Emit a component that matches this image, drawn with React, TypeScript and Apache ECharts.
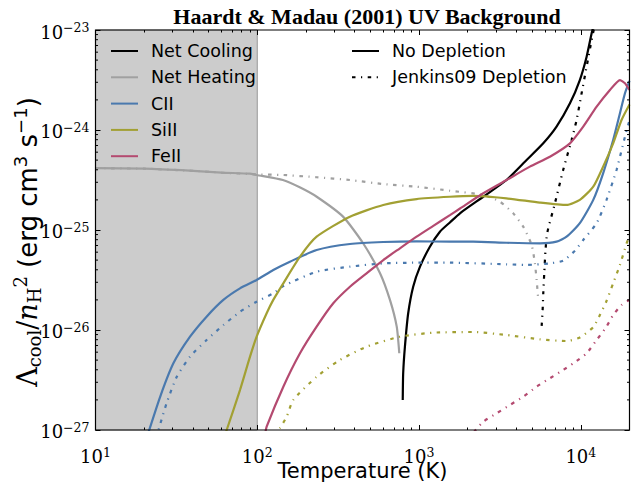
import React, { useEffect, useRef } from "react";
import * as echarts from "echarts";

// ---- tick values ----
const xMajorTicks = [10, 100, 1000, 10000];
const xMinorTicks = [20, 30, 40, 50, 60, 70, 80, 90, 200, 300, 400, 500, 600, 700, 800, 900, 2000, 3000, 4000, 5000, 6000, 7000, 8000, 9000];
const yMinorTicks = [
  2e-27, 3e-27, 4e-27, 5e-27, 6e-27, 7e-27, 8e-27, 9e-27,
  2e-26, 3e-26, 4e-26, 5e-26, 6e-26, 7e-26, 8e-26, 9e-26,
  2e-25, 3e-25, 4e-25, 5e-25, 6e-25, 7e-25, 8e-25, 9e-25,
  2e-24, 3e-24, 4e-24, 5e-24, 6e-24, 7e-24, 8e-24, 9e-24,
];
const xRange = [10, 20000];
const yRange = [9.9999e-28, 1e-23];

// ---- series data (temperature K, Lambda/nH^2 erg cm^3 s^-1) ----
const netCoolT = [793, 798, 818, 857, 920, 1014, 1167, 1346, 1552, 1791, 2495, 3475, 4624, 5861, 7079, 8570, 9863, 10864, 11668, 12023];
const netCoolL = [2.0e-27, 3.69e-27, 6.81e-27, 1.47e-26, 2.71e-26, 4.3e-26, 6.81e-26, 9.62e-26, 1.19e-25, 1.47e-25, 2.15e-25, 3.16e-25, 5.01e-25, 7.36e-25, 1.08e-24, 1.85e-24, 3.16e-24, 5.41e-24, 9.27e-24, 1.12e-23];

const netCoolDepT = [5728, 5808, 5861, 5943, 6053, 6194, 6918, 7780, 8770, 9419, 10116, 10864, 11668, 12303];
const netCoolDepL = [1.1e-26, 1.58e-26, 2.33e-26, 3.69e-26, 6.31e-26, 9.27e-26, 1.85e-25, 3.98e-25, 7.94e-25, 1.26e-24, 2.33e-24, 4.3e-24, 7.94e-24, 1.2e-23];

const netHeatT = [10, 20, 38, 60, 90, 99, 144, 183, 233, 339, 450, 573, 661, 728, 755];
const netHeatL = [4.15e-25, 4.1e-25, 3.92e-25, 3.75e-25, 3.66e-25, 3.55e-25, 3.16e-25, 2.67e-25, 2.15e-25, 1.36e-25, 7.41e-26, 3.72e-26, 2.0e-26, 1.08e-26, 5.85e-27];

const netHeatDepT = [10, 20, 38, 60, 99, 144, 233, 374, 598, 966, 1552, 2495, 3162, 3819, 4406, 4966, 5200, 5333, 5458];
const netHeatDepL = [4.15e-25, 4.1e-25, 3.92e-25, 3.75e-25, 3.6e-25, 3.55e-25, 3.37e-25, 3.16e-25, 2.88e-25, 2.71e-25, 2.47e-25, 2.24e-25, 1.92e-25, 1.47e-25, 1.08e-25, 7.08e-26, 4.68e-26, 3.16e-26, 2.0e-26];

const ciiT = [20.7, 25.1, 30.3, 38.4, 48.6, 61.7, 78.2, 99.1, 125.6, 159.2, 232.8, 374, 601, 966, 1552, 2163, 3475, 5585, 7079, 8166, 9863, 11940, 13740, 15850, 17460, 18750, 20000];
const ciiL = [8.3e-28, 2.15e-27, 4.64e-27, 8.57e-27, 1.36e-26, 2.0e-26, 2.61e-26, 3.16e-26, 3.98e-26, 4.82e-26, 6.31e-26, 7.24e-26, 7.59e-26, 7.71e-26, 7.64e-26, 7.64e-26, 7.46e-26, 7.36e-26, 7.64e-26, 8.57e-26, 1.17e-25, 2.0e-25, 3.69e-25, 7.94e-25, 1.47e-24, 2.33e-24, 3.1e-24];

const ciiDepT = [23.7, 27.5, 31.8, 38.4, 48.6, 61.7, 78.2, 99.1, 125.6, 144.9, 232.8, 374, 601, 966, 1552, 3475, 4624, 6442, 7780, 9204, 10351, 12531, 14420, 16630, 18750, 20000];
const ciiDepL = [8.3e-28, 1.85e-27, 3.41e-27, 5.41e-27, 7.94e-27, 1.12e-26, 1.52e-26, 1.92e-26, 2.33e-26, 2.75e-26, 3.83e-26, 4.3e-26, 4.64e-26, 4.71e-26, 4.71e-26, 4.54e-26, 4.47e-26, 4.64e-26, 4.93e-26, 6.21e-26, 7.94e-26, 1.17e-25, 2.0e-25, 3.98e-25, 8.57e-25, 1.25e-24];

const siiT = [62.2, 64.7, 78.2, 90.2, 99.1, 114.3, 125.6, 144.9, 183.7, 232.8, 374, 601, 966, 1552, 2163, 3475, 5585, 8166, 9863, 11940, 13740, 15850, 17860, 20000];
const siiL = [8.3e-28, 1.0e-27, 2.51e-27, 5.41e-27, 8.57e-27, 1.47e-26, 2.0e-26, 2.93e-26, 5.41e-26, 8.57e-26, 1.36e-25, 1.78e-25, 2.04e-25, 2.15e-25, 2.19e-25, 2.07e-25, 1.88e-25, 1.78e-25, 2.0e-25, 2.71e-25, 4.3e-25, 7.36e-25, 1.26e-24, 1.8e-24];

const siiDepT = [125, 138, 152, 167, 233, 324, 474, 762, 1225, 2163, 3475, 5585, 8166, 9863, 11940, 13120, 14420, 15850, 17460, 19190, 20000];
const siiDepL = [9.0e-28, 1.05e-27, 1.36e-27, 2.0e-27, 3.41e-27, 5.01e-27, 6.81e-27, 8.57e-27, 9.4e-27, 9.55e-27, 8.91e-27, 8.07e-27, 7.76e-27, 8.41e-27, 1.07e-26, 1.41e-26, 1.95e-26, 2.93e-26, 4.47e-26, 7.36e-26, 8.7e-26];

const feT = [111.7, 114.3, 144.9, 183.7, 232.8, 295, 374, 474, 601, 762, 966, 1225, 1552, 1791, 2495, 3475, 4842, 6442, 8570, 10351, 12531, 15140, 17460, 18750, 20000];
const feL = [9.1e-28, 1.08e-27, 2.71e-27, 5.85e-27, 1.08e-26, 1.85e-26, 2.71e-26, 3.69e-26, 5.01e-26, 6.56e-26, 8.57e-26, 1.1e-25, 1.41e-25, 1.64e-25, 2.33e-25, 3.16e-25, 4.3e-25, 5.41e-25, 7.36e-25, 1.08e-24, 1.71e-24, 2.51e-24, 3.16e-24, 2.93e-24, 2.51e-24];

const feDepT = [2183, 2495, 3020, 3648, 4406, 5333, 6442, 7780, 8974, 10864, 12531, 14420, 15850, 17860, 20000];
const feDepL = [9.55e-28, 1.21e-27, 1.47e-27, 1.78e-27, 2.15e-27, 2.71e-27, 3.29e-27, 3.98e-27, 4.64e-27, 5.85e-27, 7.94e-27, 1.08e-26, 1.41e-26, 1.78e-26, 2.0e-26];

const shadedRange = [10, 100];

const COLORS = {
  cool: "#000000",
  heat: "#a0a0a0",
  cii: "#4a79ae",
  sii: "#a2a033",
  fe: "#b44a70",
};
const DASHDOT = [3.5, 5.5, 1.2, 5.5];

// plot frame (layout only)
const GRID = { left: 95.5, right: 5.5, top: 30, bottom: 54 };
const W = 635;
const H = 484;

function pairs(t: number[], l: number[]) {
  return t.map((v, i) => [v, l[i]]);
}

function lineSeries(name: string, t: number[], l: number[], color: string, dashed: boolean) {
  return {
    type: "line",
    name,
    data: pairs(t, l),
    xAxisIndex: 0,
    yAxisIndex: 0,
    symbol: "none",
    showSymbol: false,
    smooth: 0.2,
    clip: true,
    z: 3,
    itemStyle: { color },
    lineStyle: { color, width: 2.2, type: dashed ? DASHDOT : "solid", cap: "butt" },
    emphasis: { disabled: true },
  };
}

const serif = "DejaVu Serif";
const sans = "DejaVu Sans";

const xLabelRich = {
  b: { fontFamily: serif, fontSize: 18, color: "#000", lineHeight: 20 },
  s: { fontFamily: serif, fontSize: 12.5, color: "#000", lineHeight: 13, verticalAlign: "top" },
};
const yLabelRich = {
  b: { fontFamily: serif, fontSize: 18, color: "#000", lineHeight: 22 },
  s: { fontFamily: serif, fontSize: 12.5, color: "#000", lineHeight: 13, verticalAlign: "top" },
};

function xFmt(v: number) {
  const e = Math.round(Math.log10(v));
  return `{b|10}{s|${e}}`;
}
function yFmt(v: number) {
  const e = Math.round(Math.log10(v));
  return `{b|10}{s|\u2212${Math.abs(e)}}`;
}

function xAxisDef(position: string, ticks: number[], len: number, labels: boolean) {
  const a: any = {
    type: "log",
    logBase: 10,
    min: xRange[0],
    max: xRange[1],
    position,
    z: 10,
    splitLine: { show: false },
    axisLine: { show: false, onZero: false },
    axisTick: { show: true, inside: true, length: len, lineStyle: { color: "#000", width: 1 }, customValues: ticks },
    axisLabel: labels
      ? { show: true, customValues: ticks, margin: 16, hideOverlap: false, formatter: xFmt, rich: xLabelRich }
      : { show: false },
  };
  return a;
}

function yAxisDef(position: string, labels: boolean) {
  const a: any = {
    type: "log",
    logBase: 10,
    min: yRange[0],
    max: yRange[1],
    position,
    z: 10,
    splitLine: { show: false },
    axisLine: { show: false, onZero: false },
    axisTick: { show: true, inside: true, length: 5, lineStyle: { color: "#000", width: 1 } },
    axisLabel: labels
      ? {
          show: true,
          showMinLabel: true,
          showMaxLabel: true,
          hideOverlap: false,
          margin: 6,
          padding: [4, 0, 0, 0],
          formatter: yFmt,
          rich: yLabelRich,
        }
      : { show: false },
  };
  return a;
}

export default function App() {
  const ref = useRef<HTMLDivElement>(null);

  useEffect(() => {
    if (!ref.current) return;
    const chart = echarts.init(ref.current, null, { renderer: "svg" });

    const xAxes = [
      xAxisDef("bottom", xMajorTicks, 5, true),
      xAxisDef("bottom", xMinorTicks, 2.5, false),
      xAxisDef("top", xMajorTicks, 5, false),
      xAxisDef("top", xMinorTicks, 2.5, false),
    ];
    xAxes[0].name = "Temperature (K)";
    xAxes[0].nameLocation = "middle";
    xAxes[0].nameGap = 28;
    xAxes[0].nameMoveOverlap = false;
    xAxes[0].nameTextStyle = { fontFamily: sans, fontSize: 21, color: "#000", lineHeight: 25 };

    const yAxes = [yAxisDef("left", true), yAxisDef("right", false)];
    yAxes[0].name =
      "{L|\u039b}{sb|cool}{m|/}{it|n}{sb|H}{sp|2}{t| (erg cm}{sp2|3}{t| s}{sp2|\u22121}{t|)}{pad|}";
    yAxes[0].nameLocation = "middle";
    yAxes[0].nameRotate = 90;
    yAxes[0].nameGap = 52;
    yAxes[0].nameMoveOverlap = false;
    yAxes[0].nameTextStyle = {
      color: "#000",
      rich: {
        L: { fontFamily: serif, fontSize: 27, lineHeight: 32, color: "#000" },
        m: { fontFamily: serif, fontSize: 27, lineHeight: 32, color: "#000" },
        it: { fontFamily: serif, fontStyle: "italic", fontSize: 27, lineHeight: 32, color: "#000" },
        sb: { fontFamily: serif, fontSize: 18, lineHeight: 20, verticalAlign: "bottom", color: "#000" },
        sp: { fontFamily: serif, fontSize: 18, lineHeight: 20, verticalAlign: "top", color: "#000" },
        t: { fontFamily: sans, fontSize: 26, lineHeight: 32, color: "#000" },
        sp2: { fontFamily: sans, fontSize: 18, lineHeight: 20, verticalAlign: "top", color: "#000" },
        pad: { width: 24, lineHeight: 32 },
      },
    };

    const legendCommon = {
      orient: "vertical",
      top: 36,
      itemWidth: 27,
      itemHeight: 14,
      itemGap: 6.3,
      selectedMode: false,
      itemStyle: { opacity: 0 },
      formatter: (name: string) => `{g|}${name}`,
      textStyle: {
        fontFamily: sans,
        fontSize: 17.5,
        color: "#000",
        lineHeight: 20,
        rich: { g: { width: 8, lineHeight: 20 } },
      },
    };

    const option: any = {
      animation: false,
      backgroundColor: "#ffffff",
      title: {
        text: "Haardt & Madau (2001) UV Background",
        left: 362,
        top: 0,
        textAlign: "center",
        textStyle: { fontFamily: "Liberation Serif", fontWeight: "bold", fontSize: 22, color: "#000" },
      },
      grid: {
        ...GRID,
        containLabel: false,
        outerBoundsMode: "none",
      },
      graphic: [
        {
          type: "rect",
          silent: true,
          z: 100,
          shape: { x: GRID.left, y: GRID.top, width: W - GRID.left - GRID.right, height: H - GRID.top - GRID.bottom },
          style: { fill: "none", stroke: "#000", lineWidth: 1.2 },
        },
      ],
      legend: [
        { ...legendCommon, left: 105, data: ["Net Cooling", "Net Heating", "CII", "SiII", "FeII"] },
        { ...legendCommon, left: 346, data: ["No Depletion", "Jenkins09 Depletion"] },
      ],
      xAxis: xAxes,
      yAxis: yAxes,
      series: [
        {
          type: "line",
          name: "shade",
          data: [],
          xAxisIndex: 0,
          yAxisIndex: 0,
          z: 1,
          markArea: {
            silent: true,
            itemStyle: { color: "#cccccc", borderColor: "#999999", borderWidth: 1 },
            data: [[{ xAxis: shadedRange[0] }, { xAxis: shadedRange[1] }]],
          },
        },
        {
          type: "custom",
          name: "yMinorTicks",
          xAxisIndex: 0,
          yAxisIndex: 0,
          z: 10,
          silent: true,
          clip: false,
          encode: { x: 0, y: 1 },
          data: yMinorTicks.map((v) => [xRange[0], v]),
          renderItem: (params: any, api: any) => {
            const v = api.value(1);
            const pl = api.coord([xRange[0], v]);
            const pr = api.coord([xRange[1], v]);
            return {
              type: "group",
              children: [
                { type: "line", shape: { x1: pl[0], y1: pl[1], x2: pl[0] + 2.5, y2: pl[1] }, style: { stroke: "#000", lineWidth: 1 } },
                { type: "line", shape: { x1: pr[0] - 2.5, y1: pr[1], x2: pr[0], y2: pr[1] }, style: { stroke: "#000", lineWidth: 1 } },
              ],
            };
          },
        },
        lineSeries("Net Cooling", netCoolT, netCoolL, COLORS.cool, false),
        lineSeries("Net Cooling (Jenkins09)", netCoolDepT, netCoolDepL, COLORS.cool, true),
        lineSeries("Net Heating", netHeatT, netHeatL, COLORS.heat, false),
        lineSeries("Net Heating (Jenkins09)", netHeatDepT, netHeatDepL, COLORS.heat, true),
        lineSeries("CII", ciiT, ciiL, COLORS.cii, false),
        lineSeries("CII (Jenkins09)", ciiDepT, ciiDepL, COLORS.cii, true),
        lineSeries("SiII", siiT, siiL, COLORS.sii, false),
        lineSeries("SiII (Jenkins09)", siiDepT, siiDepL, COLORS.sii, true),
        lineSeries("FeII", feT, feL, COLORS.fe, false),
        lineSeries("FeII (Jenkins09)", feDepT, feDepL, COLORS.fe, true),
        lineSeries("No Depletion", [], [], "#000", false),
        lineSeries("Jenkins09 Depletion", [], [], "#000", true),
      ],
    };

    chart.setOption(option);
    return () => chart.dispose();
  }, []);

  return (
    <div
      ref={ref}
      style={{ position: "fixed", left: 0, top: 0, width: W, height: H, background: "#fff" }}
    />
  );
}
